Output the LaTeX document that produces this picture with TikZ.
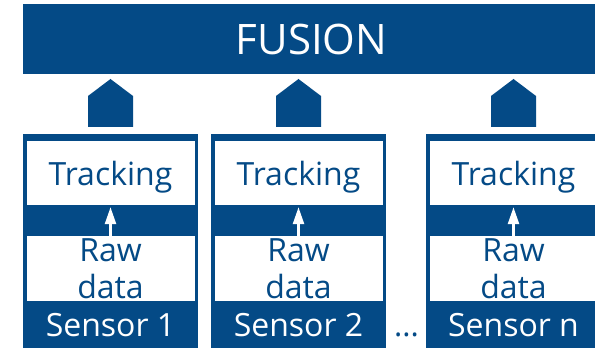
\documentclass[tikz,border=0pt]{standalone}
\usepackage{fontspec}
\setmainfont{Open Sans}
\usetikzlibrary{arrows.meta,calc}
\definecolor{sensorblue}{RGB}{4,74,134}

\begin{document}
\begin{tikzpicture}[x=1pt, y=1pt,
    frame/.style={fill=sensorblue, minimum width=175pt, minimum height=220pt, inner sep=0pt},
    cell/.style={fill=white, text=sensorblue, minimum width=168pt, minimum height=64.6pt,
        inner sep=0pt, align=center, text depth=0pt, font=\fontsize{32}{37}\selectfont},
    tag/.style={text=white, inner sep=0pt, font=\fontsize{32}{37}\selectfont},
    uparrow/.style={draw=white, line width=2.5pt, -{Triangle[length=17pt,width=11pt]}, shorten >=1.5pt}
]
    \useasboundingbox (0,0) rectangle (595,348);
    \clip (0,0) rectangle (595,348);

    % Fusion bar
    \node[fill=sensorblue, text=white, minimum width=577pt, minimum height=70pt, inner sep=0pt,
        font=\fontsize{42}{50}\selectfont] (fusion) at (311.5,309) {FUSION};

    % Sensor columns
    \foreach \c/\lab [count=\i] in {110.5/1, 298.5/2, 513.5/n} {
        \node[frame, anchor=north] (box\i) at (\c,214.5) {};
        \node[cell] (trk\i) at (\c,174.8) {Tracking};
        \node[cell] (raw\i) at (\c,79.6) {Raw\\data};
        \node[tag, anchor=base] (tag\i) at (\c,11) {Sensor \lab};
        \draw[uparrow] (raw\i) -- (trk\i);

        % house arrow up to fusion
        \fill[sensorblue] ($(box\i.north)+(-22.5,6.5)$) -- ++(0,31) -- ++(22.5,17)
            -- ++(22.5,-17) -- ++(0,-31) -- cycle;
    }

    \node[text=sensorblue, inner sep=0pt, anchor=base, font=\fontsize{31}{37}\selectfont] (dots) at (406.5,11) {...};
\end{tikzpicture}
\end{document}
